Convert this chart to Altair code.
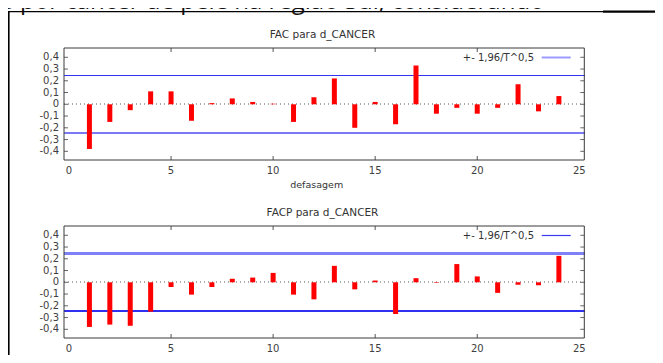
import altair as alt
import pandas as pd

# ---------------- data ----------------
lags = list(range(1, 25))
acf = [-0.38, -0.15, -0.05, 0.11, 0.11, -0.14, 0.01, 0.05, 0.02, 0.005, -0.15, 0.06,
       0.22, -0.20, 0.02, -0.17, 0.33, -0.08, -0.03, -0.08, -0.03, 0.17, -0.06, 0.07]
pacf = [-0.38, -0.36, -0.37, -0.25, -0.04, -0.105, -0.04, 0.03, 0.04, 0.08, -0.105, -0.145,
        0.14, -0.06, 0.015, -0.27, 0.035, -0.005, 0.155, 0.05, -0.09, -0.02, -0.025, 0.225]
conf = 0.245  # 1.96 / sqrt(T)
x_ticks = [0, 5, 10, 15, 20, 25]
x_tick_labels = ["0", "5", "10", "15", "20", "25"]
y_ticks = [-0.4, -0.3, -0.2, -0.1, 0, 0.1, 0.2, 0.3, 0.4]
y_tick_labels = ["-0,4", "-0,3", "-0,2", "-0,1", "0", "0,1", "0,2", "0,3", "0,4"]
panel_titles = ["FAC para d_CANCER", "FACP para d_CANCER"]
x_title = "defasagem"
legend_label = "+- 1,96/T^0,5"
caption = "os por câncer de pele na região Sul, considerando"

# ---------------- layout (pixels, chart coords) ----------------
W, H = 647, 347
X0, X1 = 56, 576.3
Y_DOM = [-0.474, 0.479]
FONT = "DejaVu Sans"
LABEL_COLOR = "#404040"


def hidden_axis(orient, offset):
    return alt.Axis(orient=orient, offset=offset, labels=False, ticks=False, tickSize=0,
                    domain=False, grid=False, title=None)


def panel(values, title, top, bottom, up_col, up_w, lo_col, lo_w, leg_col, leg_w):
    df = pd.DataFrame({"lag": lags, "v": values})
    xs = alt.Scale(domain=[0, 25], range=[X0, X1], nice=False, zero=False)
    ys = alt.Scale(domain=Y_DOM, range=[bottom, top], nice=False, zero=False)

    bars = alt.Chart(df).mark_bar(color="#ff0000", size=5).encode(
        x=alt.X("lag:Q", scale=xs, axis=hidden_axis("bottom", -(H - bottom))),
        y=alt.Y("v:Q", scale=ys, axis=hidden_axis("left", -X0)),
        y2=alt.datum(0),
    )
    zero = alt.Chart(df).mark_rule(color="#aaaaaa", strokeDash=[1, 3], strokeWidth=1).encode(
        y=alt.datum(0), x=alt.value(X0), x2=alt.value(X1))
    upper = alt.Chart(df).mark_rule(color=up_col, strokeWidth=up_w).encode(
        y=alt.datum(conf), x=alt.value(X0), x2=alt.value(X1))
    lower = alt.Chart(df).mark_rule(color=lo_col, strokeWidth=lo_w).encode(
        y=alt.datum(-conf), x=alt.value(X0), x2=alt.value(X1))

    xt = pd.DataFrame({"t": x_ticks, "lab": x_tick_labels})
    yt = pd.DataFrame({"t": y_ticks, "lab": y_tick_labels})
    xt_inner = pd.DataFrame({"t": x_ticks[1:-1]})
    xt_top = alt.Chart(xt_inner).mark_rule(color="#555555").encode(
        x=alt.X("t:Q", scale=xs, axis=None), y=alt.value(top), y2=alt.value(top + 4))
    xt_bot = alt.Chart(xt_inner).mark_rule(color="#555555").encode(
        x=alt.X("t:Q", scale=xs, axis=None), y=alt.value(bottom - 4), y2=alt.value(bottom))
    yt_left = alt.Chart(yt).mark_rule(color="#666666").encode(
        y=alt.Y("t:Q", scale=ys, axis=None), x=alt.value(X0), x2=alt.value(X0 + 4))
    yt_right = alt.Chart(yt).mark_rule(color="#666666").encode(
        y=alt.Y("t:Q", scale=ys, axis=None), x=alt.value(X1 - 4), x2=alt.value(X1))

    xlab = alt.Chart(xt).mark_text(font=FONT, fontSize=10, color=LABEL_COLOR,
                                   align="center", baseline="middle").encode(
        x=alt.X("t:Q", scale=xs, axis=None), y=alt.value(bottom + 10.7), text="lab:N")
    ylab = alt.Chart(yt).mark_text(font=FONT, fontSize=10, color=LABEL_COLOR,
                                   align="right", baseline="middle").encode(
        y=alt.Y("t:Q", scale=ys, axis=None), x=alt.value(X0 - 5), text="lab:N")
    xttl = alt.Chart(pd.DataFrame({"t": [x_title]})).mark_text(
        font=FONT, fontSize=9.5, color="#333333", align="center", baseline="middle").encode(
        text="t:N", x=alt.value(308.7), y=alt.value(bottom + 25))

    box = alt.Chart(pd.DataFrame({"a": [0]})).mark_rect(
        fill=None, stroke="#3a3a3a", strokeWidth=1).encode(
        x=alt.value(X0), x2=alt.value(X1), y=alt.value(top), y2=alt.value(bottom))

    ttl = alt.Chart(pd.DataFrame({"t": [title]})).mark_text(
        font=FONT, fontSize=10.5, color="#333333", align="center", baseline="middle").encode(
        text="t:N", x=alt.value(314.5), y=alt.value(top - 13.5))

    leg_y = top + 9.5
    leg_txt = alt.Chart(pd.DataFrame({"t": [legend_label]})).mark_text(
        font=FONT, fontSize=10, color="#333333", align="right", baseline="middle").encode(
        text="t:N", x=alt.value(526), y=alt.value(leg_y))
    leg_line = alt.Chart(pd.DataFrame({"a": [0]})).mark_rule(
        color=leg_col, strokeWidth=leg_w).encode(
        x=alt.value(533.7), x2=alt.value(562.7), y=alt.value(leg_y))

    return alt.layer(zero, upper, lower, bars, xt_top, xt_bot, yt_left, yt_right, box,
                     xlab, ylab, xttl, ttl, leg_txt, leg_line)


top_panel = panel(acf, panel_titles[0], 40, 152,
                  "#3434f2", 1.2, "#7a7af5", 1.8, "#9a9aff", 2)
bottom_panel = panel(pacf, panel_titles[1], 218, 330,
                     "#8080f5", 1.8, "#3030f0", 1.2, "#3a3af0", 1.2)

one = pd.DataFrame({"a": [0]})
frame_left = alt.Chart(one).mark_rule(color="#000000", strokeWidth=1.6).encode(
    x=alt.value(0.8), y=alt.value(3.7), y2=alt.value(H + 20))
frame_top = alt.Chart(one).mark_rule(color="#000000", strokeWidth=1.3).encode(
    x=alt.value(0), x2=alt.value(595), y=alt.value(3.7))
frame_top2 = alt.Chart(one).mark_rule(color="#000000", strokeWidth=2.2).encode(
    x=alt.value(595), x2=alt.value(W + 20), y=alt.value(3.7))
cap = alt.Chart(pd.DataFrame({"t": [caption]})).mark_text(
    font="Open Sans", fontSize=24, color="#111111", align="left",
    baseline="alphabetic").encode(text="t:N", x=alt.value(-20), y=alt.value(0.5))

chart = alt.layer(top_panel, bottom_panel, frame_left, frame_top, frame_top2, cap).resolve_scale(
    y="independent").resolve_axis(x="independent", y="independent").properties(
    width=W, height=H, autosize=alt.AutoSizeParams(type="none"), padding=0,
    background="white").configure_view(stroke=None)

chart.save("out.html", embed_options={"renderer": "svg", "actions": False})
